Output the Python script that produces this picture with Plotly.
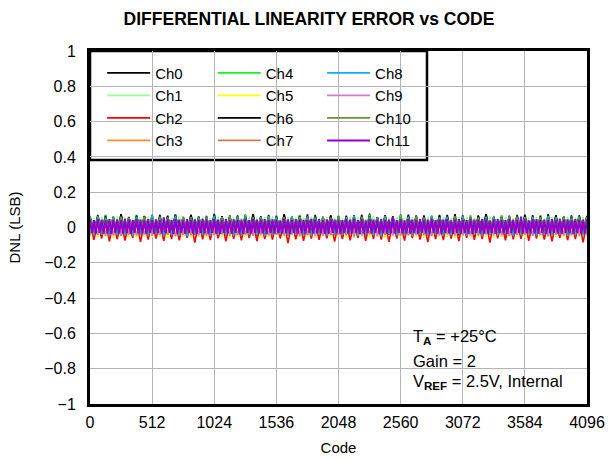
import plotly.graph_objects as go

# ---------------- data (DNL in milli-LSB) ----------------
CODES_A = list(range(0, 4097, 32))   # sampling grid for Ch0..Ch10
CODES_B = list(range(0, 4097, 16))   # sampling grid for Ch11

CH0 = [66,-40,58,-44,72,-38,61,-46,75,-41,57,-39,69,-43,63,-37,
       71,-45,59,-40,67,-42,74,-36,60,-47,70,-39,56,-44,65,-41,
       77,-38,62,-45,68,-40,58,-42,73,-37,64,-46,57,-39,71,-43,
       60,-41,76,-38,63,-44,69,-40,58,-36,72,-45,61,-42,67,-39,
       65,-48,54,-37,70,-43,62,-40,78,-44,59,-38,66,-41,55,-46,
       73,-39,61,-42,68,-37,57,-45,64,-40,71,-43,59,-38,75,-44,
       62,-41,56,-47,69,-39,74,-42,60,-36,67,-45,58,-40,72,-38,
       64,-43,70,-41,57,-46,76,-37,63,-44,59,-40,68,-42,61,-39,
       66]
CH1 = [-48,55,-42,60,-51,53,-45,62,-50,57,-44,52,-53,58,-47,61,
       -41,54,-55,59,-43,56,-49,63,-46,51,-52,57,-44,60,-48,54,
       -41,62,-50,55,-46,59,-43,53,-54,61,-45,56,-49,58,-42,64,
       -51,52,-47,60,-44,57,-53,55,-40,62,-48,54,-46,59,-50,56,
       -45,53,-49,61,-43,58,-52,50,-47,63,-41,55,-54,57,-44,60,
       -50,54,-46,59,-42,52,-55,62,-48,56,-43,60,-51,53,-45,58,
       -47,61,-44,55,-53,57,-40,63,-49,54,-46,59,-52,51,-43,62,
       -48,56,-45,60,-50,53,-42,58,-54,55,-47,61,-44,57,-51,59,
       -46]
CH2 = [30,-70,25,-62,35,-78,28,-66,32,-74,22,-60,38,-82,27,-68,
       33,-63,24,-76,36,-65,29,-72,31,-59,26,-85,34,-67,23,-71,
       37,-61,28,-79,30,-64,25,-73,35,-60,27,-77,32,-66,24,-69,
       38,-62,29,-88,33,-67,26,-75,31,-63,36,-70,22,-61,34,-80,
       28,-65,31,-72,25,-58,34,-76,29,-64,37,-69,23,-81,32,-62,
       27,-74,35,-60,30,-68,24,-83,33,-66,28,-71,36,-63,26,-77,
       31,-59,23,-70,37,-65,29,-86,32,-61,25,-73,34,-67,30,-64,
       35,-75,27,-62,33,-69,24,-78,30,-60,36,-72,28,-66,31,-84,
       29]
CH3 = [-46,30,-52,35,-44,38,-50,28,-42,35,-54,33,-47,32,-49,37,
       -43,30,-51,36,-45,34,-48,29,-53,31,-44,37,-50,34,-46,33,
       -41,29,-52,38,-45,36,-48,35,-53,31,-47,39,-42,28,-50,36,
       -44,35,-51,30,-46,37,-43,40,-47,35,-52,32,-45,38,-49,30,
       -48,34,-43,37,-55,31,-46,36,-44,29,-51,38,-47,33,-42,35,
       -50,32,-45,39,-49,30,-53,34,-44,37,-47,31,-52,36,-43,33,
       -46,38,-54,30,-42,35,-49,33,-45,37,-51,29,-48,34,-44,36,
       -52,31,-47,36,-43,39,-50,32,-46,35,-53,30,-45,37,-49,34,
       -47]
CH4 = [64,-35,58,-28,70,-32,61,-26,67,-34,56,-29,72,-33,60,-27,
       68,-31,63,-30,57,-35,71,-34,59,-26,66,-32,62,-28,55,-35,
       69,-33,60,-27,65,-31,58,-29,70,-34,57,-26,64,-32,61,-28,
       67,-35,56,-33,63,-27,71,-34,59,-26,66,-32,62,-29,57,-35,
       68,-31,54,-28,65,-33,60,-30,72,-27,58,-34,63,-29,56,-32,
       70,-26,61,-35,66,-31,55,-28,69,-33,62,-30,57,-27,64,-34,
       59,-29,71,-32,63,-26,67,-35,56,-30,68,-28,60,-33,65,-31,
       62,-27,58,-34,70,-30,64,-28,57,-33,66,-31,61,-29,69,-26,
       63]
CH5 = [-52,28,-56,24,-48,32,-58,26,-50,30,-54,22,-57,27,-49,31,
       -55,25,-51,33,-59,23,-47,29,-53,34,-55,26,-50,30,-57,24,
       -48,31,-52,27,-60,25,-51,32,-54,23,-49,29,-58,26,-53,33,
       -50,28,-56,24,-46,30,-55,27,-52,34,-57,22,-49,31,-54,25,
       -51,29,-58,26,-48,33,-53,24,-56,30,-45,27,-59,32,-50,23,
       -55,31,-47,25,-52,28,-57,34,-49,26,-54,29,-51,23,-58,30,
       -46,27,-53,32,-56,24,-50,29,-59,26,-48,33,-55,25,-52,31,
       -57,24,-49,30,-54,27,-51,33,-47,28,-56,22,-53,29,-50,26,
       -52]
CH6 = [58,-30,71,-27,63,-34,56,-29,74,-41,60,-26,67,-30,65,-33,
       57,-28,72,-35,61,-25,68,-29,59,-32,73,-27,62,-31,55,-34,
       70,-28,64,-36,58,-33,69,-31,60,-29,75,-26,63,-32,57,-30,
       66,-27,71,-34,59,-28,65,-33,74,-35,62,-29,56,-31,68,-26,
       61,-34,67,-30,57,-28,72,-43,63,-27,58,-32,70,-29,64,-35,
       56,-31,73,-26,62,-33,68,-29,59,-34,66,-28,71,-30,60,-32,
       69,-29,57,-35,64,-27,75,-31,61,-33,58,-28,67,-34,63,-30,
       72,-26,60,-32,65,-40,56,-29,70,-33,62,-27,59,-31,68,-28,
       64]
CH7 = [-42,26,-39,30,-45,24,-41,28,-47,23,-40,31,-44,25,-38,29,
       -46,22,-43,32,-40,27,-48,24,-41,30,-44,26,-39,33,-45,21,
       -43,28,-37,25,-46,31,-42,23,-40,29,-47,27,-39,32,-44,24,
       -41,30,-45,22,-38,28,-48,26,-43,31,-40,24,-46,27,-42,33,
       -39,25,-44,29,-47,23,-41,30,-36,27,-45,32,-43,24,-40,28,
       -46,31,-42,26,-39,33,-44,22,-48,29,-41,25,-37,30,-45,27,
       -43,24,-40,32,-46,28,-38,26,-44,31,-42,23,-47,29,-41,25,
       -40,27,-45,30,-42,24,-48,32,-39,26,-44,28,-41,31,-46,22,
       -43]
CH8 = [60,-44,66,-41,57,-47,63,-43,58,-45,55,-49,62,-42,59,-46,
       65,-40,61,-48,56,-44,64,-43,58,-50,54,-41,57,-45,62,-47,
       66,-42,59,-44,55,-48,63,-46,60,-43,52,-41,58,-49,64,-45,
       61,-40,56,-47,65,-42,59,-44,63,-48,57,-41,60,-46,54,-43,
       62,-45,58,-39,66,-47,53,-42,61,-44,57,-50,64,-40,59,-46,
       55,-43,63,-48,60,-41,57,-45,65,-42,58,-47,62,-44,56,-39,
       64,-46,59,-42,54,-49,61,-43,66,-45,57,-40,63,-48,60,-44,
       58,-41,62,-47,56,-43,65,-46,59,-42,61,-49,55,-44,63,-45,
       60]
CH9 = [-38,30,-42,27,-36,33,-44,29,-40,26,-37,32,-43,28,-39,31,
       -45,27,-41,34,-36,30,-43,26,-38,32,-40,28,-44,35,-37,29,
       -42,33,-39,27,-45,31,-36,29,-41,34,-38,26,-43,30,-40,32,
       -37,28,-44,31,-39,35,-42,27,-36,30,-45,33,-40,29,-38,26,
       -43,32,-37,28,-41,30,-45,34,-39,27,-42,31,-36,29,-44,33,
       -40,26,-38,35,-43,29,-37,32,-41,28,-45,30,-39,34,-42,27,
       -36,31,-44,28,-40,33,-38,26,-42,30,-37,35,-43,29,-41,32,
       -39,29,-45,27,-37,31,-42,34,-40,28,-38,32,-44,26,-36,30,
       -41]
CH10 = [55,-30,60,-28,52,-33,58,-29,62,-31,54,-34,57,-28,61,-32,
        53,-30,59,-27,56,-33,50,-29,60,-31,58,-34,54,-28,61,-30,
        51,-32,57,-27,62,-31,55,-29,53,-33,59,-28,56,-34,60,-30,
        52,-29,58,-35,54,-31,61,-28,57,-32,50,-30,59,-33,55,-27,
        60,-31,53,-29,58,-34,62,-28,56,-30,51,-33,57,-29,54,-32,
        59,-28,55,-33,61,-30,52,-27,58,-34,56,-31,50,-29,60,-32,
        54,-30,62,-29,57,-33,53,-28,59,-31,55,-35,61,-27,58,-30,
        56,-33,52,-28,60,-31,57,-29,54,-34,61,-30,53,-28,59,-32,
        57]
CH11 = [45,-32,42,-35,48,-30,44,-34,40,-33,47,-36,43,-31,46,-35,
        41,-34,49,-32,44,-37,42,-30,47,-35,45,-33,40,-36,48,-31,
        43,-34,46,-32,41,-35,58,-33,44,-30,42,-36,47,-34,45,-32,
        40,-35,48,-31,43,-34,46,-37,42,-32,49,-33,44,-35,41,-30,
        47,-34,45,-36,42,-32,48,-33,40,-35,46,-31,43,-34,44,-36,
        49,-32,41,-35,47,-30,45,-34,43,-33,48,-36,42,-31,46,-35,
        44,-33,40,-34,48,-32,46,-36,41,-30,47,-35,45,-33,43,-34,
        42,-31,49,-35,44,-33,47,-32,40,-36,46,-34,48,-30,45,-35,
        43,-34,41,-32,47,-35,44,-33,49,-31,42,-36,46,-34,40,-32,
        48,-35,45,-30,43,-34,47,-33,41,-36,44,-32,60,-35,42,-31,
        46,-34,40,-33,48,-35,45,-32,43,-36,47,-31,41,-34,44,-33,
        49,-30,42,-35,46,-34,44,-32,48,-33,40,-36,45,-31,47,-35,
        43,-32,41,-34,49,-36,45,-30,42,-33,47,-35,44,-34,40,-32,
        46,-35,48,-31,43,-33,41,-36,47,-32,45,-34,42,-30,62,-35,
        44,-33,40,-32,46,-35,48,-34,43,-31,45,-36,41,-33,47,-30,
        42,-34,49,-35,44,-32,46,-33,40,-36,48,-31,43,-35,45,-34,
        44]

CHANNEL_NAMES = ["Ch0", "Ch1", "Ch2", "Ch3", "Ch4", "Ch5",
                 "Ch6", "Ch7", "Ch8", "Ch9", "Ch10", "Ch11"]
CHANNEL_DATA = [CH0, CH1, CH2, CH3, CH4, CH5, CH6, CH7, CH8, CH9, CH10, CH11]

X_TICKS = [0, 512, 1024, 1536, 2048, 2560, 3072, 3584, 4096]
Y_TICKS = [-1, -0.8, -0.6, -0.4, -0.2, 0, 0.2, 0.4, 0.6, 0.8, 1]
Y_TICK_TEXT = ["\u22121", "\u22120.8", "\u22120.6", "\u22120.4", "\u22120.2", "0",
               "0.2", "0.4", "0.6", "0.8", "1"]

# ---------------- styles ----------------
COLORS = ["#000000", "#99ff99", "#ff0000", "#ff8c26", "#22ee22", "#ffff00",
          "#000000", "#cc7a5c", "#11aaff", "#d07ad0", "#6b8e3a", "#9000d0"]
LEGEND_OF = ["legend"] * 4 + ["legend2"] * 4 + ["legend3"] * 4
FONT = "Liberation Sans, Arial, sans-serif"

fig = go.Figure()
for name, vals, col, lg in zip(CHANNEL_NAMES, CHANNEL_DATA, COLORS, LEGEND_OF):
    codes = CODES_B if name == "Ch11" else CODES_A
    fig.add_trace(go.Scatter(
        x=codes, y=[v / 1000 for v in vals], mode="lines", name=name,
        legend=lg,
        line=dict(color=col, width=2.0 if name == "Ch11" else 1.6),
    ))

legend_common = dict(
    yanchor="top", xanchor="left", y=0.984,
    bgcolor="rgba(0,0,0,0)", borderwidth=0,
    font=dict(family=FONT, size=15, color="black"),
    tracegroupgap=0, itemwidth=43,
)

fig.update_layout(
    width=608, height=459,
    margin=dict(l=90, r=21, t=51, b=55, autoexpand=False),
    paper_bgcolor="white", plot_bgcolor="white",
    font=dict(family=FONT, color="black"),
    title=dict(text="<b>DIFFERENTIAL LINEARITY ERROR vs CODE</b>",
               x=309 / 608, xanchor="center", xref="container",
               y=1 - 18.5 / 459, yanchor="middle", yref="container",
               font=dict(family=FONT, size=17.5, color="black")),
    legend=dict(x=0.0245, **legend_common),
    legend2=dict(x=0.247, **legend_common),
    legend3=dict(x=0.467, **legend_common),
    xaxis=dict(range=[0, 4096], tickvals=X_TICKS, showgrid=True,
               gridcolor="#b4b4b4", gridwidth=1, zeroline=False,
               showline=True, linecolor="black", linewidth=3, mirror=True,
               ticks="", ticklabelstandoff=2, automargin=False,
               tickfont=dict(family=FONT, size=16, color="black"),
               title=dict(text="Code", standoff=13,
                          font=dict(family=FONT, size=15, color="black"))),
    yaxis=dict(range=[-1, 1], tickvals=Y_TICKS, ticktext=Y_TICK_TEXT,
               showgrid=True, gridcolor="#b4b4b4", gridwidth=1, zeroline=False,
               showline=True, linecolor="black", linewidth=3, mirror=True,
               ticks="", ticklabelstandoff=8, automargin=False,
               tickfont=dict(family=FONT, size=16, color="black"),
               title=dict(text="DNL (LSB)", standoff=20,
                          font=dict(family=FONT, size=15, color="black"))),
)

# legend frame (white box with black border)
fig.add_shape(type="rect", xref="paper", yref="paper",
              x0=0, x1=(427 - 90) / 497, y0=(404 - 160) / 353, y1=1,
              fillcolor="white", line=dict(color="black", width=2.5),
              layer="between")
# conditions box (white, no border)
fig.add_shape(type="rect", xref="paper", yref="paper",
              x0=(396 - 90) / 497, x1=1, y0=0, y1=(404 - 315) / 353,
              fillcolor="white", line=dict(width=0),
              layer="between")

cond_lines = ["T<sub><b>A</b></sub> = +25°C",
              "Gain = 2",
              "V<sub><b>REF</b></sub> = 2.5V, Internal"]
cond_y = [(404 - 337) / 353, (404 - 361) / 353, (404 - 382) / 353]
for txt, yy in zip(cond_lines, cond_y):
    fig.add_annotation(text=txt, xref="paper", yref="paper",
                       x=(411 - 90) / 497, y=yy, xanchor="left", yanchor="middle",
                       showarrow=False, align="left",
                       font=dict(family=FONT, size=16.5, color="black"))

fig.write_html("out.html",
               config={"displayModeBar": False},
               post_script="document.body.style.margin='0px';"
                           "document.body.style.overflow='hidden';")
